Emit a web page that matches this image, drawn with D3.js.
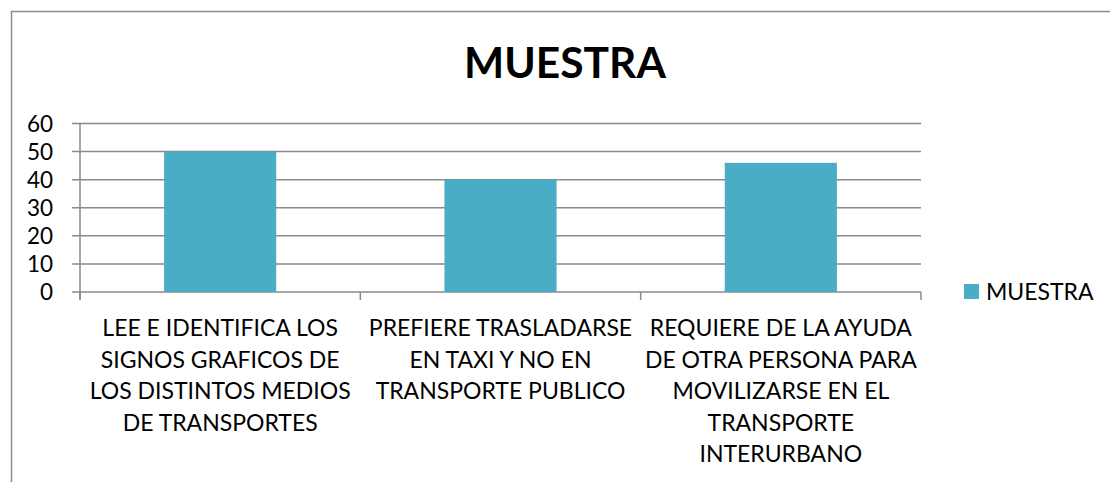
<!DOCTYPE html>
<html>
<head>
<meta charset="utf-8">
<script src="https://cdn.jsdelivr.net/npm/d3@7"></script>
<style>
  body { margin: 0; background: #fff; }
  svg { display: block; font-family: Lato, "Open Sans", sans-serif; }
</style>
</head>
<body>
<svg width="1110" height="482"></svg>
<script>
// Data
const categories = ["cat1", "cat2", "cat3"];
const categoryLines = [
    ["LEE E IDENTIFICA LOS", "SIGNOS GRAFICOS DE", "LOS DISTINTOS MEDIOS", "DE TRANSPORTES"],
    ["PREFIERE TRASLADARSE", "EN TAXI Y NO EN", "TRANSPORTE PUBLICO"],
    ["REQUIERE DE LA AYUDA", "DE OTRA PERSONA PARA", "MOVILIZARSE EN EL", "TRANSPORTE", "INTERURBANO"]
];
const muestra = [50, 40, 46];
const yTicks = [0, 10, 20, 30, 40, 50, 60];
const seriesName = "MUESTRA";

const svg = d3.select("svg");
const barColor = "#4bacc6";
const gridColor = "#8a8a8a";

// outer chart border (left + top only visible)
svg.append("path")
    .attr("d", "M11.5,482 L11.5,11.5 L1110,11.5")
    .attr("fill", "none")
    .attr("stroke", "#8c8c8c")
    .attr("stroke-width", 1.5);

// plot area
const plotLeft = 80, plotRight = 921, plotTop = 123.5, plotBottom = 292;

const x = d3.scaleBand()
    .domain(categories)
    .range([plotLeft, plotRight]);

const y = d3.scaleLinear()
    .domain([0, 60])
    .range([plotBottom, plotTop]);

// title
svg.append("text")
    .attr("x", 565)
    .attr("y", 78)
    .attr("text-anchor", "middle")
    .style("font-size", "42.5px")
    .style("font-weight", "bold")
    .text("MUESTRA");

// gridlines
svg.append("g")
    .selectAll("line")
    .data(yTicks)
    .enter()
    .append("line")
    .attr("x1", plotLeft - 8)
    .attr("x2", plotRight)
    .attr("y1", d => y(d))
    .attr("y2", d => y(d))
    .attr("stroke", gridColor)
    .attr("stroke-width", 1.5);

// y axis line
svg.append("line")
    .attr("x1", plotLeft).attr("x2", plotLeft)
    .attr("y1", plotTop).attr("y2", plotBottom + 8)
    .attr("stroke", gridColor)
    .attr("stroke-width", 1.5);

// y labels
svg.append("g")
    .selectAll("text")
    .data(yTicks)
    .enter()
    .append("text")
    .attr("x", 53)
    .attr("y", d => y(d))
    .attr("dy", "0.36em")
    .attr("text-anchor", "end")
    .style("font-size", "22.5px")
    .text(d => d);

// category boundary ticks
const bounds = categories.map(c => x(c)).concat([x(categories[categories.length - 1]) + x.bandwidth()]);
svg.append("g")
    .selectAll("line")
    .data(bounds)
    .enter()
    .append("line")
    .attr("x1", d => d).attr("x2", d => d)
    .attr("y1", plotBottom).attr("y2", plotBottom + 8)
    .attr("stroke", gridColor)
    .attr("stroke-width", 1.5);

// bars
const barW = x.bandwidth() * 0.4;
svg.append("g")
    .selectAll("rect")
    .data(muestra)
    .enter()
    .append("rect")
    .attr("x", (d, i) => x(categories[i]) + (x.bandwidth() - barW) / 2)
    .attr("y", d => y(d))
    .attr("width", barW)
    .attr("height", d => plotBottom - y(d))
    .attr("fill", barColor);

// category labels
categoryLines.forEach((lines, i) => {
    const t = svg.append("text")
        .attr("text-anchor", "middle")
        .style("font-size", "23px");
    lines.forEach((ln, j) => {
        t.append("tspan")
            .attr("x", x(categories[i]) + x.bandwidth() / 2)
            .attr("y", 336 + j * 31.6)
            .text(ln);
    });
});

// legend
const legend = svg.append("g")
    .attr("transform", "translate(964,284)");
legend.append("rect")
    .attr("width", 15)
    .attr("height", 15)
    .attr("fill", barColor);
legend.append("text")
    .attr("x", 22)
    .attr("y", 8)
    .attr("dy", "0.36em")
    .style("font-size", "23px")
    .text(seriesName);
</script>
</body>
</html>
